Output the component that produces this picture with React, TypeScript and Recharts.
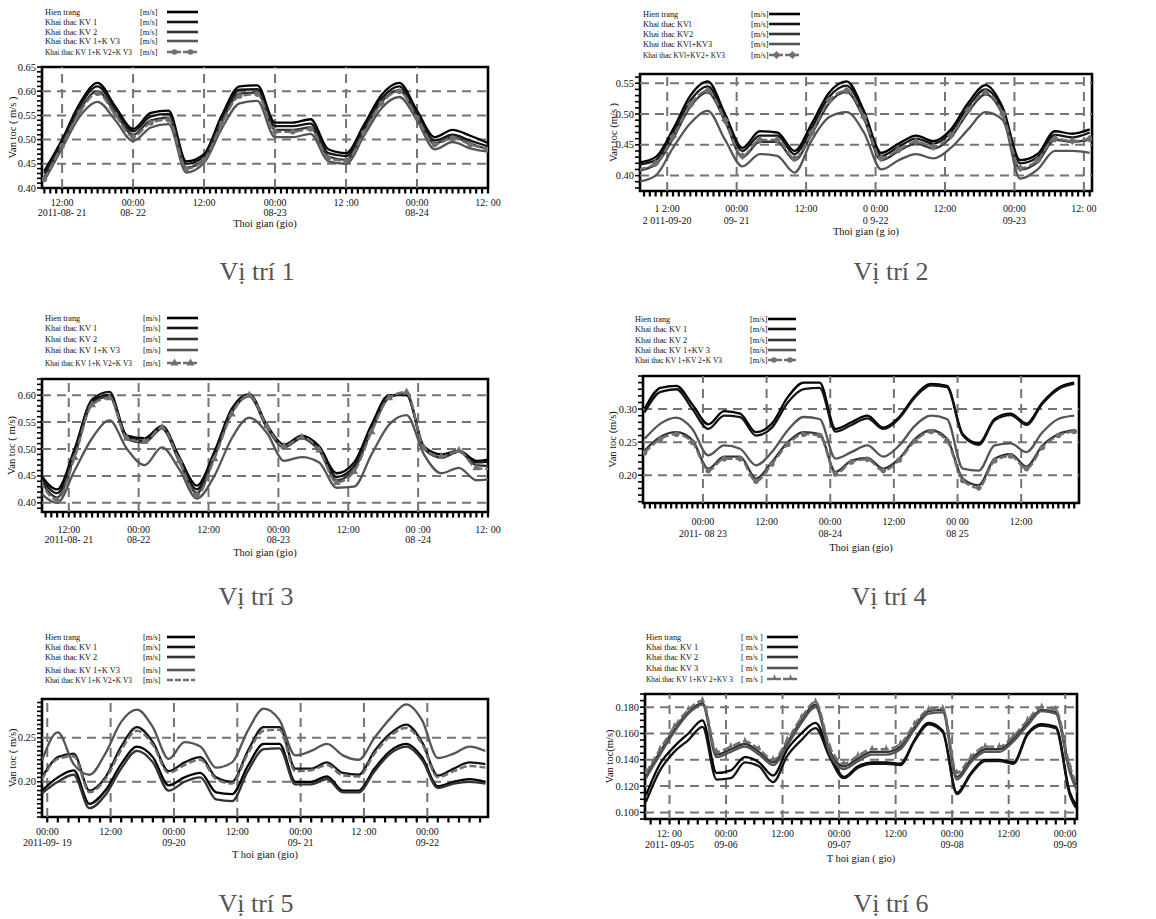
import { LineChart, Line, XAxis, YAxis, ReferenceLine, ReferenceArea } from "recharts";

const FONT = "'Liberation Serif', 'Times New Roman', serif";
const seriesColors = ["#000000", "#141414", "#333333", "#555555", "#6f6f6f"];

// ---------- Vi tri 1 (hours from 2011-08-21 00:00) ----------
const p1Hours = [9, 12, 15, 18, 21, 24, 27, 30, 33, 36, 39, 42, 45, 48, 51, 54, 57, 60, 63, 66, 69, 72, 75, 78, 81, 84];
const p1HienTrang = [0.435, 0.5, 0.575, 0.617, 0.568, 0.522, 0.555, 0.56, 0.455, 0.47, 0.55, 0.61, 0.612, 0.535, 0.535, 0.542, 0.48, 0.472, 0.53, 0.592, 0.617, 0.56, 0.505, 0.52, 0.508, 0.493];
const p1KV1 = [0.43, 0.495, 0.57, 0.61, 0.563, 0.517, 0.548, 0.553, 0.45, 0.466, 0.544, 0.603, 0.604, 0.528, 0.528, 0.533, 0.472, 0.466, 0.524, 0.585, 0.61, 0.553, 0.498, 0.51, 0.498, 0.486];
const p1KV2 = [0.422, 0.49, 0.562, 0.6, 0.555, 0.51, 0.54, 0.545, 0.442, 0.46, 0.537, 0.595, 0.597, 0.52, 0.52, 0.525, 0.465, 0.458, 0.517, 0.578, 0.602, 0.547, 0.492, 0.505, 0.492, 0.48];
const p1KV13 = [0.415, 0.482, 0.548, 0.578, 0.54, 0.497, 0.525, 0.532, 0.432, 0.452, 0.523, 0.575, 0.58, 0.505, 0.505, 0.512, 0.455, 0.45, 0.507, 0.565, 0.588, 0.54, 0.48, 0.495, 0.482, 0.475];
const p1KV123 = [0.418, 0.487, 0.557, 0.596, 0.551, 0.506, 0.535, 0.541, 0.44, 0.458, 0.533, 0.59, 0.594, 0.516, 0.516, 0.522, 0.462, 0.456, 0.514, 0.575, 0.6, 0.545, 0.49, 0.503, 0.49, 0.48];
const p1XMajor = [12, 24, 36, 48, 60, 72, 84];
const p1XTop = ["12:00", "00:00", "12:00", "00:00", "12 :00", "00:00", "12: 00"];
const p1XBottom = ["2011-08- 21", "08- 22", "", "08-23", "", "08-24", ""];
const p1YMajor = [0.4, 0.45, 0.5, 0.55, 0.6, 0.65];
const p1Names = ["Hien trang", "Khai thac KV 1", "Khai thac KV 2", "Khai thac KV 1+K V3", "Khai thac KV 1+K V2+K V3"];

// ---------- Vi tri 2 (hours from 2011-09-20 00:00) ----------
const p2Hours = [7, 10, 13, 16, 19, 22, 25, 28, 31, 34, 37, 40, 43, 46, 49, 52, 55, 58, 61, 64, 67, 70, 73, 76, 79, 82, 85];
const p2HienTrang = [0.421, 0.43, 0.475, 0.53, 0.553, 0.5, 0.445, 0.472, 0.47, 0.44, 0.485, 0.535, 0.553, 0.505, 0.437, 0.452, 0.465, 0.456, 0.475, 0.518, 0.547, 0.51, 0.425, 0.435, 0.472, 0.468, 0.475];
const p2KV1 = [0.418, 0.425, 0.468, 0.522, 0.545, 0.495, 0.44, 0.465, 0.465, 0.435, 0.478, 0.528, 0.546, 0.5, 0.432, 0.447, 0.46, 0.452, 0.47, 0.512, 0.54, 0.505, 0.42, 0.43, 0.466, 0.462, 0.47];
const p2KV2 = [0.408, 0.418, 0.46, 0.512, 0.535, 0.488, 0.43, 0.455, 0.455, 0.425, 0.468, 0.518, 0.536, 0.492, 0.425, 0.44, 0.452, 0.444, 0.462, 0.503, 0.532, 0.498, 0.41, 0.422, 0.458, 0.455, 0.458];
const p2KV13 = [0.39, 0.4, 0.445, 0.485, 0.505, 0.458, 0.415, 0.435, 0.432, 0.405, 0.458, 0.495, 0.503, 0.47, 0.41, 0.425, 0.435, 0.428, 0.445, 0.475, 0.503, 0.49, 0.395, 0.41, 0.44, 0.44, 0.437];
const p2KV123 = [0.41, 0.42, 0.463, 0.515, 0.538, 0.49, 0.432, 0.458, 0.458, 0.428, 0.47, 0.522, 0.538, 0.495, 0.428, 0.442, 0.455, 0.447, 0.465, 0.506, 0.535, 0.5, 0.412, 0.425, 0.46, 0.456, 0.46];
const p2XMajor = [12, 24, 36, 48, 60, 72, 84];
const p2XTop = ["1 2:00", "00:00", "12:00", "0 0:00", "12:00", "00:00", "12: 00"];
const p2XBottom = ["2 011-09-20", "09- 21", "", "0 9-22", "", "09-23", ""];
const p2YMajor = [0.4, 0.45, 0.5, 0.55];
const p2Names = ["Hien trang", "Khai thac KVl", "Khai thac KV2", "Khai thac KVl+KV3", "Khai thac KVl+KV2+ KV3"];

// ---------- Vi tri 3 (hours from 2011-08-21 00:00) ----------
const p3Hours = [7, 10, 13, 16, 19, 22, 25, 28, 31, 34, 37, 40, 43, 46, 49, 52, 55, 58, 61, 64, 67, 70, 73, 76, 79, 82, 85];
const p3HienTrang = [0.455, 0.425, 0.5, 0.59, 0.6, 0.525, 0.52, 0.543, 0.485, 0.432, 0.495, 0.575, 0.602, 0.545, 0.508, 0.525, 0.505, 0.455, 0.475, 0.545, 0.6, 0.6, 0.505, 0.49, 0.497, 0.478, 0.482];
const p3KV1 = [0.45, 0.418, 0.495, 0.592, 0.606, 0.522, 0.515, 0.54, 0.48, 0.425, 0.49, 0.572, 0.6, 0.542, 0.505, 0.522, 0.5, 0.448, 0.468, 0.54, 0.598, 0.602, 0.502, 0.485, 0.495, 0.475, 0.478];
const p3KV2 = [0.445, 0.41, 0.488, 0.585, 0.598, 0.518, 0.512, 0.538, 0.476, 0.418, 0.485, 0.568, 0.598, 0.54, 0.503, 0.52, 0.497, 0.442, 0.462, 0.535, 0.595, 0.603, 0.5, 0.484, 0.495, 0.47, 0.468];
const p3KV13 = [0.42, 0.4, 0.46, 0.52, 0.553, 0.5, 0.47, 0.503, 0.462, 0.408, 0.45, 0.52, 0.558, 0.53, 0.478, 0.485, 0.475, 0.428, 0.43, 0.49, 0.545, 0.563, 0.49, 0.455, 0.465, 0.442, 0.445];
const p3KV123 = [0.442, 0.405, 0.484, 0.582, 0.595, 0.52, 0.514, 0.54, 0.478, 0.414, 0.482, 0.565, 0.6, 0.543, 0.505, 0.522, 0.498, 0.438, 0.458, 0.532, 0.595, 0.606, 0.502, 0.486, 0.497, 0.465, 0.462];
const p3XMajor = [12, 24, 36, 48, 60, 72, 84];
const p3XTop = ["12:00", "00:00", "12:00", "00:00", "12:00", "00 :00", "12: 00"];
const p3XBottom = ["2011-08- 21", "08-22", "", "08-23", "", "08 -24", ""];
const p3YMajor = [0.4, 0.45, 0.5, 0.55, 0.6];
const p3Names = ["Hien trang", "Khai thac KV 1", "Khai thac KV 2", "Khai thac KV 1+K V3", "Khai thac KV 1+K V2+K V3"];

// ---------- Vi tri 4 (hours from 2011-08-23 00:00) ----------
const p4Hours = [-11, -8, -5, -2, 1, 4, 7, 10, 13, 16, 19, 22, 25, 28, 31, 34, 37, 40, 43, 46, 49, 52, 55, 58, 61, 64, 67, 70];
const p4HienTrang = [0.3, 0.332, 0.335, 0.307, 0.277, 0.297, 0.293, 0.265, 0.278, 0.318, 0.34, 0.34, 0.27, 0.28, 0.29, 0.272, 0.288, 0.32, 0.338, 0.335, 0.262, 0.248, 0.285, 0.293, 0.278, 0.31, 0.332, 0.34];
const p4KV1 = [0.295, 0.326, 0.33, 0.3, 0.27, 0.29, 0.288, 0.26, 0.272, 0.31, 0.33, 0.332, 0.266, 0.276, 0.286, 0.27, 0.286, 0.318, 0.336, 0.333, 0.26, 0.246, 0.283, 0.291, 0.276, 0.308, 0.33, 0.338];
const p4KV2 = [0.237, 0.258, 0.265, 0.253, 0.21, 0.228, 0.228, 0.195, 0.22, 0.25, 0.265, 0.262, 0.205, 0.222, 0.226, 0.21, 0.225, 0.255, 0.268, 0.255, 0.195, 0.185, 0.225, 0.232, 0.213, 0.245, 0.262, 0.268];
const p4KV13 = [0.255, 0.278, 0.287, 0.27, 0.23, 0.245, 0.24, 0.215, 0.235, 0.268, 0.288, 0.285, 0.225, 0.235, 0.245, 0.228, 0.245, 0.275, 0.29, 0.285, 0.21, 0.207, 0.245, 0.248, 0.235, 0.265, 0.285, 0.29];
const p4KV123 = [0.234, 0.255, 0.262, 0.25, 0.207, 0.225, 0.225, 0.191, 0.217, 0.247, 0.262, 0.26, 0.202, 0.22, 0.224, 0.207, 0.223, 0.252, 0.266, 0.252, 0.192, 0.181, 0.222, 0.229, 0.21, 0.242, 0.26, 0.266];
const p4XMajor = [0, 12, 24, 36, 48, 60];
const p4XTop = ["00:00", "12:00", "00:00", "12:00", "00 00", "12:00"];
const p4XBottom = ["2011- 08 23", "", "08-24", "", "08 25", ""];
const p4YMajor = [0.2, 0.25, 0.3];
const p4Names = ["Hien trang", "Khai thac KV 1", "Khai thac KV 2", "Khai thac KV 1+KV 3", "Khai thac KV 1+KV 2+K V3"];

// ---------- Vi tri 5 (hours from 2011-09-19 00:00) ----------
const p5Hours = [-1, 2, 5, 8, 11, 14, 17, 20, 23, 26, 29, 32, 35, 38, 41, 44, 47, 50, 53, 56, 59, 62, 65, 68, 71, 74, 77, 80, 83];
const p5HienTrang = [0.19, 0.205, 0.213, 0.175, 0.19, 0.22, 0.24, 0.228, 0.196, 0.205, 0.21, 0.188, 0.186, 0.218, 0.243, 0.243, 0.2, 0.2, 0.206, 0.19, 0.19, 0.215, 0.235, 0.243, 0.228, 0.195, 0.2, 0.203, 0.2];
const p5KV1 = [0.205, 0.228, 0.232, 0.19, 0.205, 0.24, 0.262, 0.245, 0.212, 0.222, 0.228, 0.205, 0.2, 0.235, 0.262, 0.262, 0.215, 0.215, 0.222, 0.21, 0.208, 0.235, 0.255, 0.265, 0.245, 0.207, 0.215, 0.222, 0.22];
const p5KV2 = [0.187, 0.2, 0.208, 0.17, 0.185, 0.215, 0.235, 0.222, 0.19, 0.2, 0.205, 0.18, 0.178, 0.212, 0.237, 0.238, 0.197, 0.197, 0.203, 0.188, 0.188, 0.212, 0.232, 0.24, 0.225, 0.193, 0.198, 0.2, 0.198];
const p5KV13 = [0.224, 0.256, 0.22, 0.208, 0.232, 0.268, 0.282, 0.262, 0.226, 0.245, 0.24, 0.216, 0.222, 0.258, 0.283, 0.27, 0.23, 0.235, 0.243, 0.23, 0.225, 0.25, 0.272, 0.288, 0.27, 0.227, 0.232, 0.24, 0.235];
const p5KV123 = [0.203, 0.226, 0.229, 0.188, 0.203, 0.236, 0.258, 0.242, 0.21, 0.219, 0.225, 0.203, 0.198, 0.232, 0.258, 0.259, 0.212, 0.213, 0.219, 0.207, 0.206, 0.232, 0.252, 0.261, 0.243, 0.205, 0.212, 0.218, 0.216];
const p5XMajor = [0, 12, 24, 36, 48, 60, 72];
const p5XTop = ["00:00", "12:00", "00:00", "12:00", "00:00", "12 :00", "00:00"];
const p5XBottom = ["2011-09- 19", "", "09-20", "", "09- 21", "", "09-22"];
const p5YMajor = [0.2, 0.25];
const p5Names = ["Hien trang", "Khai thac KV 1", "Khai thac KV 2", "Khai thac KV 1+K V3", "Khai thac KV 1+K V2+K V3"];

// ---------- Vi tri 6 (hours from 2011-09-05 00:00) ----------
const p6Hours = [7, 10, 13, 16, 19, 22, 25, 28, 31, 34, 37, 40, 43, 46, 49, 52, 55, 58, 61, 64, 67, 70, 73, 76, 79, 82, 85, 88, 91, 94, 97, 100];
const p6HienTrang = [0.113, 0.137, 0.15, 0.16, 0.17, 0.13, 0.132, 0.142, 0.138, 0.128, 0.148, 0.16, 0.168, 0.145, 0.127, 0.135, 0.138, 0.138, 0.137, 0.155, 0.168, 0.162, 0.115, 0.13, 0.14, 0.14, 0.138, 0.16, 0.167, 0.165, 0.115, 0.1];
const p6KV1 = [0.108, 0.132, 0.146, 0.155, 0.165, 0.125, 0.126, 0.138, 0.135, 0.123, 0.143, 0.155, 0.164, 0.142, 0.126, 0.134, 0.137, 0.137, 0.136, 0.154, 0.167, 0.161, 0.114, 0.129, 0.139, 0.139, 0.137, 0.159, 0.166, 0.164, 0.113, 0.098];
const p6KV2 = [0.128, 0.146, 0.163, 0.176, 0.183, 0.144, 0.148, 0.152, 0.146, 0.138, 0.153, 0.17, 0.182, 0.147, 0.135, 0.141, 0.146, 0.146, 0.15, 0.165, 0.177, 0.178, 0.127, 0.14, 0.148, 0.148, 0.156, 0.168, 0.178, 0.176, 0.132, 0.108];
const p6KV3 = [0.126, 0.144, 0.161, 0.175, 0.182, 0.142, 0.146, 0.15, 0.144, 0.136, 0.151, 0.168, 0.18, 0.145, 0.133, 0.139, 0.144, 0.144, 0.148, 0.163, 0.175, 0.176, 0.125, 0.138, 0.146, 0.146, 0.154, 0.166, 0.177, 0.175, 0.13, 0.106];
const p6KV123 = [0.13, 0.148, 0.165, 0.178, 0.185, 0.146, 0.15, 0.154, 0.148, 0.14, 0.155, 0.172, 0.184, 0.15, 0.137, 0.143, 0.148, 0.148, 0.152, 0.167, 0.178, 0.179, 0.13, 0.142, 0.15, 0.15, 0.158, 0.17, 0.18, 0.178, 0.135, 0.11];
const p6XMajor = [12, 24, 36, 48, 60, 72, 84, 96];
const p6XTop = ["12: 00", "00:00", "12:00", "00:00", "12:00", "00:00", "12:00", "00:00"];
const p6XBottom = ["2011- 09-05", "09-06", "", "09-07", "", "09-08", "", "09-09"];
const p6YMajor = [0.1, 0.12, 0.14, 0.16, 0.18];
const p6Names = ["Hien trang", "Khai thac KV 1", "Khai thac KV 2", "Khai thac KV 3", "Khai thac KV 1+KV 2+KV 3"];

type Marker = "circle" | "diamond" | "triangle" | "spike" | "none";

type PanelCfg = {
  plot: { left: number; top: number; right: number; bottom: number };
  xDomain: [number, number];
  yDomain: [number, number];
  hours: number[];
  series: number[][];
  xMajor: number[];
  xTop: string[];
  xBottom: string[];
  xLabelDy: [number, number];
  xStep: number;
  yMajor: number[];
  yStep: number;
  yDigits: number;
  xTitle: string;
  xTitleY: number;
  yTitle: string;
  yTitleX: number;
  names: string[];
  unit: string;
  marker: Marker;
  legend: { x: number; unitX: number; x1: number; x2: number; rows: number[] };
  caption: string;
  captionX: number;
  captionY: number;
};

const panels: PanelCfg[] = [
  {
    plot: { left: 42, top: 67, right: 488, bottom: 188 },
    xDomain: [8.6, 84], yDomain: [0.4, 0.65],
    hours: p1Hours, series: [p1HienTrang, p1KV1, p1KV2, p1KV13, p1KV123],
    xMajor: p1XMajor, xTop: p1XTop, xBottom: p1XBottom, xLabelDy: [17.5, 27.5], xStep: 1,
    yMajor: p1YMajor, yStep: 0.01, yDigits: 2,
    xTitle: "Thoi gian (gio)", xTitleY: 223, yTitle: "Van toc ( m/s )", yTitleX: 12,
    names: p1Names, unit: "[m/s]", marker: "circle",
    legend: { x: 45, unitX: 140, x1: 167, x2: 198, rows: [12, 22, 32, 41, 52] },
    caption: "Vị trí 1", captionX: 257, captionY: 272,
  },
  {
    plot: { left: 640, top: 74, right: 1092, bottom: 191 },
    xDomain: [7.3, 85.4], yDomain: [0.375, 0.565],
    hours: p2Hours, series: [p2HienTrang, p2KV1, p2KV2, p2KV13, p2KV123],
    xMajor: p2XMajor, xTop: p2XTop, xBottom: p2XBottom, xLabelDy: [20.5, 32.5], xStep: 1,
    yMajor: p2YMajor, yStep: 0.01, yDigits: 2,
    xTitle: "Thoi gian (g io)", xTitleY: 231, yTitle: "Van toc (m/s )", yTitleX: 613,
    names: p2Names, unit: "[m/s]", marker: "diamond",
    legend: { x: 643, unitX: 751, x1: 769, x2: 800, rows: [14, 24, 34, 44, 55] },
    caption: "Vị trí 2", captionX: 891, captionY: 272,
  },
  {
    plot: { left: 42, top: 379, right: 488, bottom: 512 },
    xDomain: [7.4, 84], yDomain: [0.383, 0.63],
    hours: p3Hours, series: [p3HienTrang, p3KV1, p3KV2, p3KV13, p3KV123],
    xMajor: p3XMajor, xTop: p3XTop, xBottom: p3XBottom, xLabelDy: [20.5, 30.5], xStep: 1,
    yMajor: p3YMajor, yStep: 0.01, yDigits: 2,
    xTitle: "Thoi gian (gio)", xTitleY: 552, yTitle: "Van toc ( m/s)", yTitleX: 11,
    names: p3Names, unit: "[m/s]", marker: "triangle",
    legend: { x: 45, unitX: 143, x1: 167, x2: 198, rows: [318, 328, 339, 350, 363] },
    caption: "Vị trí 3", captionX: 256, captionY: 597,
  },
  {
    plot: { left: 643, top: 376, right: 1079, bottom: 503 },
    xDomain: [-11.3, 70.9], yDomain: [0.158, 0.35],
    hours: p4Hours, series: [p4HienTrang, p4KV1, p4KV2, p4KV13, p4KV123],
    xMajor: p4XMajor, xTop: p4XTop, xBottom: p4XBottom, xLabelDy: [22, 33.5], xStep: 1,
    yMajor: p4YMajor, yStep: 0.01, yDigits: 2,
    xTitle: "Thoi gian (gio)", xTitleY: 547, yTitle: "Van toc (m/s)", yTitleX: 612,
    names: p4Names, unit: "[m/s]", marker: "circle",
    legend: { x: 635, unitX: 750, x1: 768, x2: 796, rows: [319, 329, 340, 350, 360] },
    caption: "Vị trí 4", captionX: 889, captionY: 597,
  },
  {
    plot: { left: 42, top: 699, right: 488, bottom: 817 },
    xDomain: [-1, 83.5], yDomain: [0.16, 0.294],
    hours: p5Hours, series: [p5HienTrang, p5KV1, p5KV2, p5KV13, p5KV123],
    xMajor: p5XMajor, xTop: p5XTop, xBottom: p5XBottom, xLabelDy: [18, 28.5], xStep: 2,
    yMajor: p5YMajor, yStep: 0.005, yDigits: 2,
    xTitle: "T hoi gian (gio)", xTitleY: 854, yTitle: "Van toc ( m/s)", yTitleX: 12,
    names: p5Names, unit: "[m/s]", marker: "none",
    legend: { x: 45, unitX: 143, x1: 167, x2: 195, rows: [637, 647, 657, 670, 680] },
    caption: "Vị trí 5", captionX: 256, captionY: 904,
  },
  {
    plot: { left: 645, top: 694, right: 1077, bottom: 819 },
    xDomain: [6.8, 98.5], yDomain: [0.095, 0.19],
    hours: p6Hours, series: [p6HienTrang, p6KV1, p6KV2, p6KV3, p6KV123],
    xMajor: p6XMajor, xTop: p6XTop, xBottom: p6XBottom, xLabelDy: [18, 28.5], xStep: 2,
    yMajor: p6YMajor, yStep: 0.005, yDigits: 3,
    xTitle: "T hoi gian (  gio)", xTitleY: 858, yTitle: "Van toc(m/s)", yTitleX: 609,
    names: p6Names, unit: "[ m/s ]", marker: "spike",
    legend: { x: 646, unitX: 741, x1: 767, x2: 798, rows: [637, 647, 657, 668, 679] },
    caption: "Vị trí 6", captionX: 891, captionY: 904,
  },
];

function markerShape(kind: Marker, cx: number, cy: number, key?: any) {
  const fill = "#6f6f6f";
  if (cx == null || cy == null) return <g key={key} />;
  if (kind === "circle") return <circle key={key} cx={cx} cy={cy} r={2.8} fill={fill} />;
  if (kind === "diamond")
    return <path key={key} d={`M${cx},${cy - 4}L${cx + 4},${cy}L${cx},${cy + 4}L${cx - 4},${cy}Z`} fill={fill} />;
  if (kind === "triangle")
    return <path key={key} d={`M${cx},${cy - 4.5}L${cx + 4},${cy + 2.5}L${cx - 4},${cy + 2.5}Z`} fill={fill} />;
  if (kind === "spike")
    return <path key={key} d={`M${cx},${cy - 5}L${cx + 2.2},${cy + 1}L${cx - 2.2},${cy + 1}Z`} fill={fill} />;
  return <g key={key} />;
}

const near = (a: number, b: number) => Math.abs(a - b) < 1e-6;

function XTick(props: any) {
  const { x, y, payload, cfg } = props;
  const i = cfg.xMajor.findIndex((m: number) => near(m, payload.value));
  return (
    <g>
      <rect x={x - 1.1} y={y + 1} width={2.2} height={4.5} fill="#000" />
      {i >= 0 && (
        <text x={x} y={y + cfg.xLabelDy[0]} textAnchor="middle" fontSize={10} fontFamily={FONT} fill="#111">
          {cfg.xTop[i]}
        </text>
      )}
      {i >= 0 && cfg.xBottom[i] && (
        <text x={x} y={y + cfg.xLabelDy[1]} textAnchor="middle" fontSize={10} fontFamily={FONT} fill="#111">
          {cfg.xBottom[i]}
        </text>
      )}
    </g>
  );
}

function YTick(props: any) {
  const { x, y, payload, cfg } = props;
  const major = cfg.yMajor.some((m: number) => near(m, payload.value));
  return (
    <g>
      <rect x={x - 5} y={y - 0.8} width={4} height={1.6} fill="#000" />
      {major && (
        <text x={x - 6} y={y + 3.5} textAnchor="end" fontSize={10.5} fontFamily={FONT} fill="#111">
          {payload.value.toFixed(cfg.yDigits)}
        </text>
      )}
    </g>
  );
}

function Panel({ cfg }: { cfg: PanelCfg }) {
  const yw = 40;
  const mt = 5;
  const mr = 24;
  const mb = 6;
  const plotW = cfg.plot.right - cfg.plot.left;
  const plotH = cfg.plot.bottom - cfg.plot.top;
  const xh = cfg.xTitleY + 3.5 - cfg.plot.bottom;
  const chartLeft = cfg.plot.left - yw;
  const chartTop = cfg.plot.top - mt;

  const data = cfg.hours.map((h, i) => {
    const row: any = { h };
    cfg.series.forEach((s, k) => {
      row["s" + k] = s[i];
    });
    return row;
  });

  const xTicks: number[] = [];
  for (let t = Math.ceil(cfg.xDomain[0] / cfg.xStep) * cfg.xStep; t <= cfg.xDomain[1] + 1e-9; t += cfg.xStep) xTicks.push(t);
  const yTicks: number[] = [];
  for (let k = Math.ceil(cfg.yDomain[0] / cfg.yStep - 1e-6); k * cfg.yStep <= cfg.yDomain[1] + 1e-9; k++)
    yTicks.push(Math.round(k * cfg.yStep * 10000) / 10000);

  const inX = (v: number) => v > cfg.xDomain[0] + 0.3 && v < cfg.xDomain[1] - 0.3;
  const inY = (v: number) => v > cfg.yDomain[0] + 1e-4 && v < cfg.yDomain[1] - 1e-4;

  return (
    <div style={{ position: "absolute", left: chartLeft, top: chartTop }}>
      <LineChart
        width={yw + plotW + mr}
        height={mt + plotH + xh + mb}
        data={data}
        margin={{ top: mt, right: mr, bottom: mb, left: 0 }}
      >
        <XAxis
          dataKey="h"
          type="number"
          domain={cfg.xDomain}
          allowDataOverflow
          ticks={xTicks}
          interval={0}
          axisLine={false}
          tickLine={false}
          tickSize={0}
          tickMargin={0}
          height={xh}
          tick={(p: any) => <XTick {...p} cfg={cfg} />}
          label={{ value: cfg.xTitle, position: "insideBottom", offset: 0, fontSize: 10.5, fontFamily: FONT, fill: "#111" }}
        />
        <YAxis
          type="number"
          domain={cfg.yDomain}
          allowDataOverflow
          ticks={yTicks}
          interval={0}
          width={yw}
          axisLine={false}
          tickLine={false}
          tickSize={0}
          tickMargin={0}
          tick={(p: any) => <YTick {...p} cfg={cfg} />}
          label={{
            value: cfg.yTitle,
            angle: -90,
            position: "insideLeft",
            offset: cfg.yTitleX - chartLeft,
            fontSize: 10.5,
            fontFamily: FONT,
            fill: "#111",
            style: { textAnchor: "middle" },
          }}
        />
        {cfg.yMajor.filter(inY).map((v) => (
          <ReferenceLine key={"gy" + v} y={v} stroke="#747474" strokeWidth={2} strokeDasharray="9 6" />
        ))}
        {cfg.xMajor.filter(inX).map((v) => (
          <ReferenceLine key={"gx" + v} x={v} stroke="#747474" strokeWidth={2} strokeDasharray="9 6" />
        ))}
        {cfg.series.map((_, k) => (
          <Line
            key={k}
            dataKey={"s" + k}
            type="monotone"
            stroke={seriesColors[k]}
            strokeWidth={k === 4 ? 2.4 : 2.3}
            strokeDasharray={k === 4 ? (cfg.marker === "none" ? "7 3" : "8 3") : undefined}
            dot={k === 4 && cfg.marker !== "none" ? (p: any) => markerShape(cfg.marker, p.cx, p.cy, p.index) : false}
            activeDot={false}
            isAnimationActive={false}
          />
        ))}
        <ReferenceArea
          x1={cfg.xDomain[0]}
          x2={cfg.xDomain[1]}
          y1={cfg.yDomain[0]}
          y2={cfg.yDomain[1]}
          fill="none"
          fillOpacity={0}
          stroke="#000"
          strokeWidth={2.6}
          ifOverflow="visible"
        />
      </LineChart>
    </div>
  );
}

function Legends() {
  return (
    <svg width={1156} height={919} style={{ position: "absolute", left: 0, top: 0, pointerEvents: "none" }}>
      {panels.map((cfg, pi) => (
        <g key={pi}>
          {cfg.names.map((name, k) => {
            const y = cfg.legend.rows[k];
            const mid = (cfg.legend.x1 + cfg.legend.x2) / 2;
            return (
              <g key={k}>
                <text x={cfg.legend.x} y={y + 3} fontSize={k === 4 ? 7.4 : 8.3} fontFamily={FONT} fill="#111">
                  {name}
                </text>
                <text x={cfg.legend.unitX} y={y + 3} fontSize={8.3} fontFamily={FONT} fill="#111">
                  {cfg.unit}
                </text>
                <line
                  x1={cfg.legend.x1}
                  x2={cfg.legend.x2}
                  y1={y}
                  y2={y}
                  stroke={seriesColors[k]}
                  strokeWidth={2.6}
                  strokeDasharray={k === 4 ? "6 2" : undefined}
                />
                {k === 4 && cfg.marker !== "none" && (
                  <g>
                    {markerShape(cfg.marker, mid - 8, y, "a")}
                    {markerShape(cfg.marker, mid + 8, y, "b")}
                  </g>
                )}
              </g>
            );
          })}
        </g>
      ))}
    </svg>
  );
}

export default function App() {
  return (
    <div
      style={{
        position: "absolute",
        left: 0,
        top: 0,
        width: 1156,
        height: 919,
        background: "#fff",
        fontFamily: FONT,
        overflow: "hidden",
      }}
    >
      {panels.map((cfg, i) => (
        <Panel key={i} cfg={cfg} />
      ))}
      <Legends />
      {panels.map((cfg, i) => (
        <div
          key={"c" + i}
          style={{
            position: "absolute",
            left: cfg.captionX - 60,
            top: cfg.captionY - 16,
            width: 120,
            textAlign: "center",
            fontSize: 26,
            lineHeight: "32px",
            color: "#555",
            fontFamily: FONT,
          }}
        >
          {cfg.caption}
        </div>
      ))}
    </div>
  );
}
